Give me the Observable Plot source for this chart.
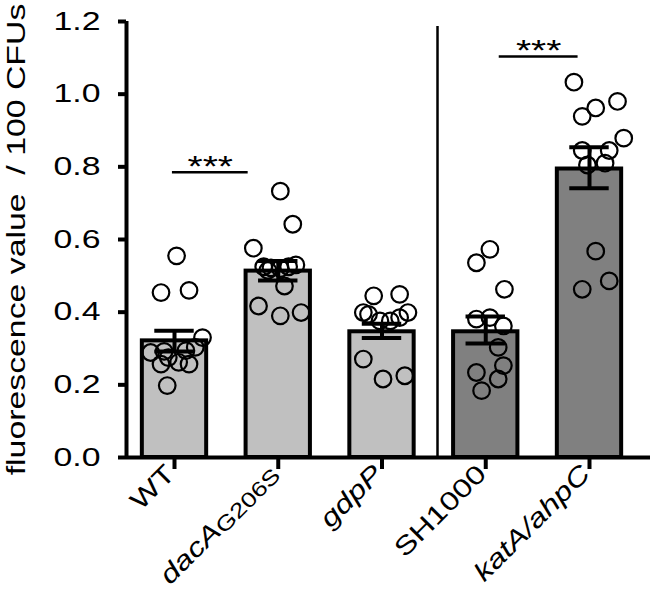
<!DOCTYPE html>
<html><head><meta charset="utf-8">
<script src="https://cdn.jsdelivr.net/npm/d3@7"></script>
<script src="https://cdn.jsdelivr.net/npm/@observablehq/plot@0.6"></script>
<style>body{margin:0;background:#fff} svg text{white-space:pre}</style>
</head><body><div id="chart"></div>
<script>
// ---------- data ----------
const categories = ["WT", "dacAG206S", "gdpP", "SH1000", "katA/ahpC"];
const background = ["light", "light", "light", "dark", "dark"];
const means   = [0.321, 0.513, 0.346, 0.346, 0.794];
const semLow  = [0.292, 0.487, 0.329, 0.314, 0.741];
const semHigh = [0.349, 0.541, 0.368, 0.388, 0.854];

const wtValues    = [0.555, 0.454, 0.460, 0.330, 0.289, 0.292, 0.294, 0.257, 0.262, 0.257, 0.275, 0.198, 0.303];
const wtJitter    = [0.02, -0.13, 0.14, 0.27, -0.23, -0.10, 0.11, -0.13, 0.04, 0.14, -0.06, -0.07, 0.20];
const dacAValues  = [0.733, 0.642, 0.576, 0.525, 0.522, 0.520, 0.525, 0.530, 0.515, 0.472, 0.417, 0.390, 0.399];
const dacAJitter  = [0.02, 0.14, -0.24, -0.14, -0.07, 0.02, 0.10, 0.17, -0.10, 0.06, -0.19, 0.02, 0.22];
const gdpPValues  = [0.445, 0.449, 0.399, 0.394, 0.399, 0.385, 0.376, 0.376, 0.271, 0.216, 0.225];
const gdpPJitter  = [-0.08, 0.17, -0.18, -0.13, 0.25, 0.17, -0.02, 0.08, -0.18, 0.01, 0.22];
const shValues    = [0.573, 0.536, 0.463, 0.381, 0.385, 0.362, 0.303, 0.253, 0.234, 0.216, 0.184];
const shJitter    = [0.04, -0.09, 0.18, -0.09, 0.04, 0.17, 0.12, 0.17, -0.09, 0.12, -0.04];
const katAValues  = [1.033, 0.939, 0.962, 0.980, 0.879, 0.845, 0.845, 0.805, 0.810, 0.568, 0.463, 0.486];
const katAJitter  = [-0.15, -0.07, 0.06, 0.27, 0.33, -0.07, 0.19, -0.02, 0.15, 0.06, -0.07, 0.19];

const yTicks = [0, 0.2, 0.4, 0.6, 0.8, 1.0, 1.2];
const yTitle = "fluorescence value\u00a0 / 100 CFUs";

// significance annotations (category-index units, data units)
const sigFrom  = [-0.02, 3.13];
const sigTo    = [0.71, 3.89];
const sigLevel = [0.785, 1.104];
const sigLabel = ["***", "***"];
const dividerAt = [2.535];
const dividerTop = 1.186;

// ---------- tables ----------
const bars = categories.map((c, i) => ({c, i, bg: background[i], mean: means[i], lo: semLow[i], hi: semHigh[i]}));
const valueSets = [wtValues, dacAValues, gdpPValues, shValues, katAValues];
const jitterSets = [wtJitter, dacAJitter, gdpPJitter, shJitter, katAJitter];
const points = valueSets.flatMap((vals, i) => vals.map((v, k) => ({i, v, pos: i + jitterSets[i][k]})));
const sigs = sigLabel.map((s, k) => ({s, x1: sigFrom[k], x2: sigTo[k], y: sigLevel[k]}));

const xMin = -0.4627, xMax = 4.588;
const HALF_BAR = 0.31, HALF_CAP = 0.19, STRETCH = 1.3, LABEL_STRETCH = 1.25;
const FONT = '"Liberation Sans", Arial, Helvetica, sans-serif';

const chart = Plot.plot({
  width: 650, height: 590,
  marginLeft: 126, marginRight: 0, marginTop: 21, marginBottom: 133,
  style: {fontFamily: FONT, fontSize: "26px", background: "#fff", color: "#000"},
  x: {domain: [xMin, xMax], axis: null},
  y: {domain: [0, 1.2], axis: null},
  color: {domain: ["light", "dark"], range: ["#c0c0c0", "#808080"]},
  marks: [
    // bars
    Plot.rectY(bars, {x1: d => d.i - HALF_BAR, x2: d => d.i + HALF_BAR, y1: () => 0, y2: d => d.mean,
      fill: "bg", stroke: "#000", strokeWidth: 4}),
    // points
    Plot.dot(points, {x: "pos", y: "v", r: 8.3, stroke: "#000", strokeWidth: 2.2, fill: "none"}),
    // error bars
    Plot.ruleX(bars, {x: "i", y1: "lo", y2: "hi", stroke: "#000", strokeWidth: 4}),
    Plot.ruleY(bars, {y: "hi", x1: d => d.i - HALF_CAP, x2: d => d.i + HALF_CAP, stroke: "#000", strokeWidth: 4}),
    Plot.ruleY(bars, {y: "lo", x1: d => d.i - HALF_CAP, x2: d => d.i + HALF_CAP, stroke: "#000", strokeWidth: 4}),
    // divider
    Plot.ruleX(dividerAt, {x: d => d, y1: () => 0, y2: () => dividerTop, stroke: "#000", strokeWidth: 2.5}),
    // significance
    Plot.ruleY(sigs, {y: "y", x1: "x1", x2: "x2", stroke: "#000", strokeWidth: 2.5}),
    Plot.text(sigs, {x: d => (d.x1 + d.x2) / 2, y: "y", text: "s", fontSize: 30, dy: -6}),
    // y axis
    Plot.ruleX([xMin], {x: d => d, y1: () => yTicks[0], y2: () => yTicks[yTicks.length - 1], stroke: "#000", strokeWidth: 4}),
    Plot.ruleY(yTicks, {y: d => d, x1: () => xMin, x2: () => xMin, insetLeft: -8, stroke: "#000", strokeWidth: 4}),
    Plot.text(yTicks, {x: () => xMin, y: d => d, text: d => d.toFixed(1), textAnchor: "end", dx: -26, fontSize: 26}),
    Plot.text([yTitle], {frameAnchor: "left", rotate: -90, dx: -110, fontSize: 26, textAnchor: "middle"}),
    // x axis
    Plot.ruleY([0], {y: d => d, x1: () => xMin, x2: () => xMax, stroke: "#000", strokeWidth: 4}),
    Plot.ruleX(bars, {x: "i", y1: () => 0, y2: () => 0, insetBottom: -12, stroke: "#000", strokeWidth: 4}),
    Plot.text(bars, {x: "i", y: () => 0, text: "c", rotate: -45, textAnchor: "end", lineAnchor: "bottom",
      dx: 2, dy: 18, fontSize: 26})
  ]
});
document.getElementById("chart").append(chart);

// rich x labels (italic gene names, subscript allele)
const NS = "http://www.w3.org/2000/svg";
function span(parent, txt, italic, sub) {
  const t = document.createElementNS(NS, "tspan");
  t.textContent = txt;
  t.setAttribute("font-style", italic ? "italic" : "normal");
  t.style.fontStyle = italic ? "italic" : "normal";
  if (sub) { t.style.fontSize = "21px"; t.setAttribute("dy", "2"); }
  parent.appendChild(t);
}
const xLabelTexts = new Set();
chart.querySelectorAll("text").forEach(t => {
  const s = t.textContent;
  if (!categories.includes(s)) return;
  xLabelTexts.add(t);
  t.textContent = "";
  if (s === "dacAG206S") { span(t, "dacA", true); span(t, "G206S", false, true); }
  else if (s === "gdpP" || s === "katA/ahpC") span(t, s, true);
  else span(t, s, false);
});
// wide lettering as in the original figure
chart.querySelectorAll("text").forEach(t => {
  const w = t.getComputedTextLength();
  const k = xLabelTexts.has(t) ? LABEL_STRETCH : STRETCH;
  if (w > 0) { t.setAttribute("textLength", (w * k).toFixed(1)); t.setAttribute("lengthAdjust", "spacingAndGlyphs"); }
});
</script>
</body></html>
